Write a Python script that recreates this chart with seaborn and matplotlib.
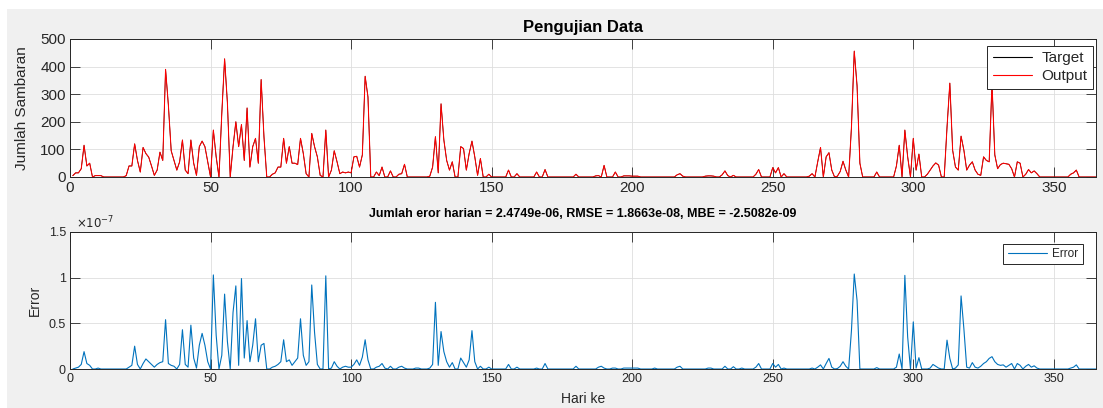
import numpy as np
import pandas as pd
import seaborn as sns
import matplotlib.pyplot as plt
from matplotlib.patches import Rectangle
from matplotlib.ticker import FuncFormatter

# ------ Data ------

hari = np.arange(1, 366)

# jumlah sambaran per hari (target), day 1..365
target = np.array([
    5, 15, 15, 30, 115, 40, 50, 0, 5, 5,
    5, 0, 0, 0, 0, 0, 0, 0, 0, 5,
    40, 40, 120, 60, 18, 107, 85, 72, 40, 6,
    25, 90, 60, 390, 260, 95, 60, 25, 55, 134,
    25, 12, 134, 50, 6, 110, 130, 110, 55, 0,
    170, 73, 0, 230, 428, 268, 0, 110, 200, 110,
    190, 60, 250, 36, 110, 140, 50, 353, 146, 0,
    0, 10, 15, 36, 36, 140, 50, 110, 50, 50,
    45, 140, 85, 12, 0, 158, 110, 73, 6, 0,
    170, 0, 25, 95, 55, 12, 18, 15, 18, 15,
    73, 75, 36, 80, 365, 290, 0, 0, 18, 5,
    36, 0, 0, 22, 0, 0, 10, 12, 46, 0,
    0, 0, 0, 0, 0, 0, 0, 3, 36, 146,
    15, 265, 134, 60, 25, 55, 0, 0, 110, 103,
    25, 85, 130, 73, 6, 67, 0, 0, 10, 0,
    0, 0, 0, 0, 0, 25, 0, 0, 12, 0,
    0, 0, 0, 0, 0, 18, 0, 0, 27, 0,
    0, 0, 0, 0, 0, 0, 0, 0, 0, 10,
    0, 0, 0, 0, 0, 0, 4, 5, 0, 42,
    0, 0, 0, 18, 0, 0, 4, 4, 4, 3,
    3, 3, 0, 0, 0, 0, 0, 0, 0, 0,
    0, 0, 0, 0, 0, 8, 12, 3, 0, 0,
    0, 0, 0, 0, 0, 3, 4, 4, 3, 0,
    0, 8, 22, 5, 0, 6, 0, 0, 0, 0,
    0, 0, 0, 10, 27, 0, 0, 0, 0, 34,
    15, 34, 0, 12, 0, 0, 0, 0, 0, 0,
    0, 0, 3, 12, 0, 55, 107, 0, 73, 88,
    25, 0, 3, 20, 57, 25, 0, 180, 456, 330,
    50, 0, 0, 0, 0, 0, 18, 0, 0, 0,
    0, 0, 0, 40, 115, 0, 170, 73, 0, 140,
    25, 83, 0, 0, 10, 25, 40, 51, 43, 0,
    0, 180, 340, 97, 36, 25, 148, 97, 25, 43,
    55, 25, 10, 6, 73, 60, 55, 340, 80, 30,
    45, 50, 48, 46, 30, 0, 55, 50, 0, 10,
    27, 15, 22, 12, 0, 0, 0, 0, 0, 0,
    0, 0, 0, 0, 0, 10, 15, 25, 0, 0,
    0, 0, 0, 0, 0,
])

# error per hari, dalam satuan 1e-7
error_e7 = np.array([
    0, 0.01, 0.02, 0.05, 0.19, 0.06, 0.04, 0, 0, 0.01,
    0, 0, 0, 0, 0, 0, 0, 0, 0, 0,
    0.02, 0.04, 0.25, 0.05, 0, 0.06, 0.11, 0.08, 0.05, 0.02,
    0.05, 0.07, 0.08, 0.54, 0.06, 0.04, 0.03, 0, 0.05, 0.43,
    0.05, 0.02, 0.48, 0.12, 0.01, 0.26, 0.39, 0.26, 0.08, 0,
    1.03, 0.37, 0, 0.15, 0.82, 0.3, 0, 0.62, 0.91, 0.04,
    0.99, 0.12, 0.53, 0.08, 0.26, 0.55, 0.08, 0.26, 0.28, 0,
    0, 0.02, 0.03, 0.05, 0.08, 0.32, 0.08, 0.1, 0.04, 0.08,
    0.12, 0.55, 0.15, 0.04, 0.08, 0.92, 0.4, 0.05, 0, 0,
    1.02, 0, 0.01, 0.08, 0.03, 0, 0.02, 0.03, 0.02, 0.02,
    0.05, 0.1, 0.04, 0.13, 0.32, 0.1, 0, 0, 0.02, 0.03,
    0.06, 0.01, 0, 0.03, 0, 0, 0.02, 0.03, 0.01, 0,
    0, 0, 0.01, 0.01, 0, 0, 0, 0.01, 0.05, 0.73,
    0.04, 0.41, 0.19, 0.08, 0.02, 0.07, 0, 0, 0.12, 0.07,
    0.02, 0.1, 0.42, 0.08, 0, 0.03, 0, 0, 0.02, 0,
    0, 0, 0, 0, 0, 0.05, 0, 0, 0.02, 0,
    0, 0, 0, 0, 0, 0.01, 0, 0, 0.06, 0,
    0, 0, 0, 0, 0, 0, 0, 0, 0, 0.03,
    0, 0, 0, 0, 0, 0, 0, 0.02, 0.03, 0.01,
    0, 0, 0.01, 0.01, 0, 0, 0.01, 0.01, 0.01, 0.01,
    0.01, 0.01, 0, 0, 0, 0, 0, 0.01, 0, 0,
    0, 0, 0, 0, 0, 0.02, 0.03, 0, 0, 0,
    0, 0, 0, 0, 0, 0, 0.01, 0.01, 0, 0,
    0, 0, 0.03, 0, 0, 0.025, 0, 0, 0.01, 0,
    0, 0, 0, 0.02, 0.06, 0, 0, 0, 0, 0.06,
    0.02, 0.05, 0, 0.01, 0, 0, 0, 0, 0, 0,
    0, 0, 0, 0.01, 0, 0.02, 0.045, 0, 0.06, 0.116,
    0.02, 0, 0.005, 0.03, 0.08, 0.03, 0, 0.42, 1.04, 0.75,
    0, 0, 0, 0, 0, 0, 0.015, 0, 0, 0,
    0, 0, 0, 0.02, 0.164, 0, 1.025, 0.35, 0, 0.516,
    0.01, 0.124, 0, 0, 0, 0.01, 0.05, 0.03, 0.01, 0,
    0, 0.316, 0.116, 0, 0.01, 0.045, 0.8, 0.44, 0.02, 0.01,
    0.07, 0.02, 0.01, 0.03, 0.06, 0.08, 0.116, 0.135, 0.08, 0.05,
    0.04, 0.045, 0.02, 0.04, 0.06, 0, 0.06, 0.04, 0, 0.03,
    0.05, 0.02, 0.035, 0.01, 0, 0, 0, 0, 0, 0,
    0, 0, 0, 0, 0, 0.01, 0.02, 0.045, 0, 0,
    0, 0, 0, 0, 0,
])

judul_atas = "Pengujian Data"
judul_bawah = "Jumlah eror harian = 2.4749e-06, RMSE = 1.8663e-08, MBE = -2.5082e-09"

error = error_e7 * 1e-7
output = target + error

df = pd.DataFrame({"hari": hari, "target": target, "output": output, "error": error})

# ------ Style ------

sns.set_theme(style="white")
plt.rcParams['font.family'] = ['Liberation Sans', 'DejaVu Sans']

DARK = "#262626"
GRID = "#dedede"


def matlab_axes(ax, fs):
    ax.set_facecolor("white")
    for s in ax.spines.values():
        s.set_visible(True)
        s.set_color(DARK)
        s.set_linewidth(0.7)
    ax.tick_params(direction="in", length=7.5, width=0.6, color=DARK,
                   labelcolor=DARK, labelsize=fs, top=True, right=True,
                   left=True, bottom=True, pad=3)
    ax.grid(True, color=GRID, linewidth=0.6)
    ax.set_axisbelow(True)


fig = plt.figure(figsize=(11.03, 4.08), dpi=100, facecolor="white")
fig.add_artist(Rectangle((7 / 1103, 0), 1, 1 - 9 / 408, transform=fig.transFigure,
                         facecolor="#f0f0f0", edgecolor="none", zorder=-10))

# ------ Top: target vs output ------

ax1 = fig.add_axes([70 / 1103, 1 - 177 / 408, 1026 / 1103, 138 / 408])
sns.lineplot(data=df, x="hari", y="target", ax=ax1, color="black", lw=0.5,
             label="Target", estimator=None)
sns.lineplot(data=df, x="hari", y="output", ax=ax1, color="red", lw=0.75,
             label="Output", estimator=None)
matlab_axes(ax1, 11)
ax1.set_xlim(0, 365)
ax1.set_ylim(0, 500)
ax1.set_xticks(np.arange(0, 351, 50))
ax1.set_yticks(np.arange(0, 501, 100))
ax1.set_xlabel("")
ax1.set_ylabel("Jumlah Sambaran", fontsize=11, color=DARK)
ax1.yaxis.set_label_coords(-0.040, 0.5)
ax1.set_title(judul_atas, fontsize=12, fontweight="bold", color="black", pad=5)
leg1 = ax1.legend(loc="upper right", bbox_to_anchor=(0.997, 0.949), borderaxespad=0,
                  fontsize=11, frameon=True, fancybox=False, framealpha=1,
                  edgecolor=DARK, handlelength=2.6, borderpad=0.35, labelspacing=0.25,
                  handletextpad=0.6)
leg1.get_frame().set_linewidth(0.7)
for line in leg1.get_lines():
    line.set_linewidth(0.8)

# ------ Bottom: error ------

ax2 = fig.add_axes([70 / 1103, 1 - 369 / 408, 1026 / 1103, 137 / 408])
sns.lineplot(data=df, x="hari", y="error", ax=ax2, color="#0072BD", lw=0.8,
             label="Error", estimator=None)
matlab_axes(ax2, 9)
ax2.set_xlim(0, 365)
ax2.set_ylim(0, 1.5e-7)
ax2.set_xticks(np.arange(0, 351, 50))
ax2.set_yticks(np.arange(0, 1.51e-7, 0.5e-7))
ax2.yaxis.set_major_formatter(FuncFormatter(lambda v, p: f"{v / 1e-7:g}"))
ax2.text(0.006, 1.008, r"$\times10^{-7}$", transform=ax2.transAxes, fontsize=8.5,
         color=DARK, ha="left", va="bottom")
ax2.set_xlabel("Hari ke", fontsize=10, color=DARK, labelpad=5)
ax2.set_ylabel("Error", fontsize=10, color=DARK)
ax2.yaxis.set_label_coords(-0.027, 0.5)
ax2.set_title(judul_bawah, fontsize=9, fontweight="bold", color="black", pad=11)
leg2 = ax2.legend(loc="upper right", bbox_to_anchor=(0.987, 0.912), borderaxespad=0,
                  fontsize=8.5, frameon=True, fancybox=False, framealpha=1,
                  edgecolor=DARK, handlelength=3.3, borderpad=0.35,
                  handletextpad=0.5)
leg2.get_frame().set_linewidth(0.7)

fig.savefig("out.png", dpi=100, facecolor=fig.get_facecolor())
